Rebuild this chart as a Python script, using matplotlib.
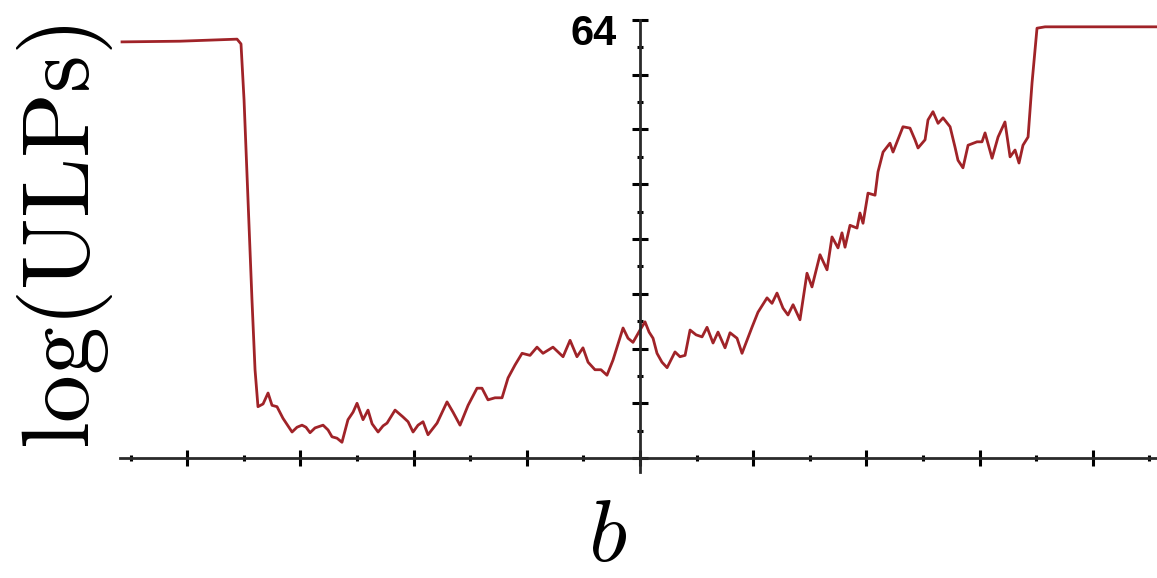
import numpy as np
import matplotlib
matplotlib.use("Agg")
import matplotlib.pyplot as plt

plt.rcParams["mathtext.fontset"] = "cm"

# traced curve: b (major tick = 1 unit) vs log(ULPs)
b_vals = [-4.576, -4.064, -3.560, -3.525, -3.498, -3.463, -3.428, -3.401, -3.375, -3.330,
          -3.286, -3.251, -3.207, -3.154, -3.074, -3.030, -2.986, -2.951, -2.915, -2.871,
          -2.800, -2.756, -2.721, -2.677, -2.633, -2.580, -2.535, -2.500, -2.447, -2.403,
          -2.367, -2.314, -2.270, -2.235, -2.164, -2.094, -2.049, -2.005, -1.961, -1.917,
          -1.873, -1.793, -1.705, -1.652, -1.590, -1.519, -1.440, -1.396, -1.343, -1.281,
          -1.219, -1.166, -1.104, -1.042, -0.972, -0.910, -0.857, -0.769, -0.724, -0.680,
          -0.618, -0.557, -0.504, -0.459, -0.398, -0.345, -0.292, -0.239, -0.150, -0.106,
          -0.062, 0.000, 0.044, 0.080, 0.115, 0.150, 0.194, 0.239, 0.309, 0.353,
          0.398, 0.442, 0.495, 0.548, 0.592, 0.645, 0.689, 0.751, 0.795, 0.857,
          0.901, 0.945, 0.989, 1.042, 1.122, 1.166, 1.210, 1.263, 1.307, 1.352,
          1.413, 1.475, 1.519, 1.590, 1.652, 1.696, 1.749, 1.784, 1.811, 1.855,
          1.917, 1.943, 1.970, 2.014, 2.076, 2.102, 2.147, 2.208, 2.235, 2.323,
          2.385, 2.429, 2.456, 2.518, 2.544, 2.588, 2.633, 2.677, 2.739, 2.783,
          2.809, 2.853, 2.898, 2.977, 3.021, 3.048, 3.110, 3.163, 3.224, 3.269,
          3.313, 3.348, 3.383, 3.428, 3.463, 3.507, 3.578, 4.064, 4.567]
ulps = [60.8, 60.9, 61.2, 60.5, 52.3, 37.7, 23.1, 12.9, 7.5, 7.9,
        9.5, 7.7, 7.5, 5.8, 3.8, 4.5, 4.8, 4.5, 3.7, 4.4,
        4.8, 4.1, 3.1, 2.9, 2.3, 5.6, 6.7, 8.0, 5.6, 7.0,
        5.0, 3.8, 4.7, 5.1, 7.0, 6.0, 5.3, 3.8, 4.8, 5.3,
        3.4, 5.1, 8.2, 6.7, 4.8, 7.7, 10.2, 10.2, 8.5, 8.8,
        8.8, 11.7, 13.6, 15.3, 15.0, 16.2, 15.3, 16.2, 15.5, 14.8,
        17.2, 14.8, 16.1, 14.0, 12.9, 12.9, 12.1, 14.3, 19.0, 17.5,
        16.9, 18.7, 19.9, 18.4, 17.5, 15.3, 14.0, 13.2, 15.5, 14.8,
        15.0, 18.7, 18.0, 17.7, 19.1, 16.8, 18.4, 16.1, 18.3, 17.5,
        15.3, 17.2, 19.1, 21.3, 23.4, 22.6, 24.1, 21.9, 20.9, 22.4,
        20.2, 27.0, 25.0, 29.7, 27.5, 32.3, 30.7, 32.9, 30.8, 34.0,
        33.6, 35.8, 34.3, 38.7, 38.4, 41.8, 44.7, 46.0, 44.7, 48.4,
        48.2, 46.5, 45.3, 46.5, 49.4, 50.6, 48.9, 49.7, 48.4, 45.4,
        43.5, 42.4, 45.7, 46.2, 46.2, 47.5, 43.8, 46.9, 49.1, 44.0,
        45.0, 43.1, 45.7, 46.9, 54.8, 62.8, 63.0, 63.0, 63.0]

x_major = [-4, -3, -2, -1, 0, 1, 2, 3, 4]
x_minor = [-4.5, -3.5, -2.5, -1.5, -0.5, 0.5, 1.5, 2.5, 3.5, 4.5]
y_major = [0, 8, 16, 24, 32, 40, 48, 56, 64]
y_minor = [4, 12, 20, 28, 36, 44, 52, 60]

fig = plt.figure(figsize=(11.57, 5.78), dpi=100)
ax = fig.add_axes([0, 0, 1, 1])
ax.set_xlim(-5.654, 4.567)
ax.set_ylim(-17.53, 66.92)

ax.plot(b_vals, ulps, color="#a02328", lw=2.0, solid_joinstyle="round")

for side in ["top", "right"]:
    ax.spines[side].set_visible(False)
ax.spines["left"].set_position(("data", 0))
ax.spines["bottom"].set_position(("data", 0))
ax.spines["left"].set_bounds(-2, 64)
ax.spines["bottom"].set_bounds(-4.594, 4.567)
for side in ["left", "bottom"]:
    ax.spines[side].set_color("#2a2a2a")
    ax.spines[side].set_linewidth(2)
ax.patch.set_visible(False)

ax.set_xticks(x_major)
ax.set_xticks(x_minor, minor=True)
ax.set_yticks(y_major)
ax.set_yticks(y_minor, minor=True)
ax.tick_params(which="major", direction="inout", length=11, width=2.2,
               color="black", labelbottom=False, labelleft=False)
ax.tick_params(which="minor", direction="inout", length=4, width=2.2, color="black")

fig.text(617 / 1157, 1 - 34 / 578, "64", ha="right", va="center",
         fontsize=30, fontweight="bold", family="Liberation Sans")
fig.text(65 / 1157, 1 - 237 / 578, r"$\mathrm{log(ULPs)}$", rotation=90,
         ha="center", va="center", fontsize=69)
fig.text(607 / 1157, 1 - 536 / 578, r"$b$", ha="center", va="center", fontsize=64)

fig.savefig("out.png", dpi=100)
